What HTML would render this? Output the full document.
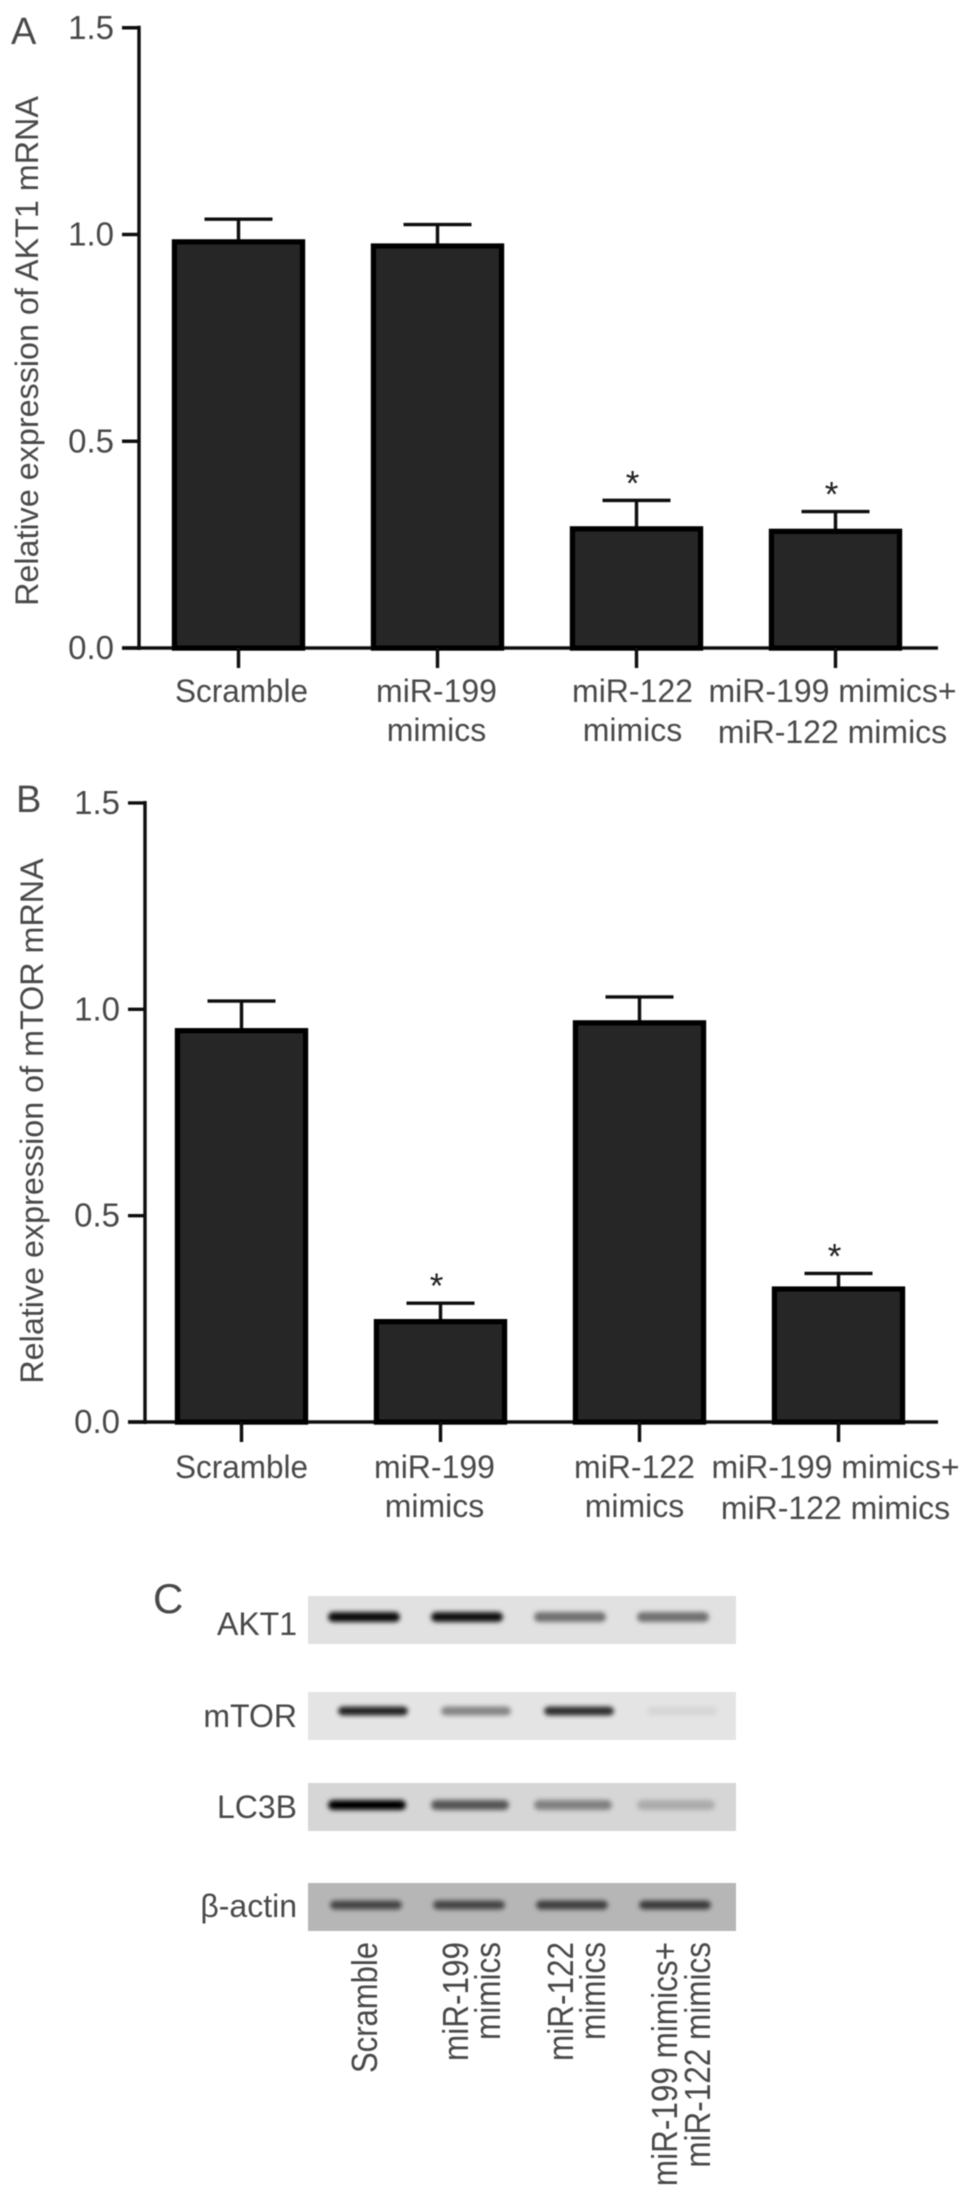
<!DOCTYPE html>
<html lang="en">
<head>
<meta charset="utf-8">
<title>Relative expression of AKT1 and mTOR mRNA with western blots</title>
<style>
html,body{margin:0;padding:0;background:#fff;}
svg{display:block;}
text{font-family:"Liberation Sans",Arial,sans-serif;fill:#4a4a4a;}
</style>
</head>
<body>
<svg id="figure" xmlns="http://www.w3.org/2000/svg" width="969" height="2201" viewBox="0 0 969 2201">
<defs>
<filter id="soft" x="-5%" y="-5%" width="110%" height="110%"><feGaussianBlur stdDeviation="0.6"/></filter>
<filter id="bandBlur" x="-20%" y="-100%" width="140%" height="300%"><feGaussianBlur stdDeviation="2.4"/></filter>
</defs>
<rect width="969" height="2201" fill="#fff"/>
<g id="root" filter="url(#soft)"></g>
</svg>
<script>
const categories = [["Scramble"],["miR-199","mimics"],["miR-122","mimics"],["miR-199 mimics+","miR-122 mimics"]];
const yTickValues = [0, 0.5, 1, 1.5];
const yTickLabels = ["0.0", "0.5", "1.0", "1.5"];
const akt1Values = [0.982, 0.972, 0.288, 0.282];
const akt1ErrorTops = [1.037, 1.024, 0.357, 0.33];
const akt1Significant = [false, false, true, true];
const mtorValues = [0.948, 0.243, 0.967, 0.322];
const mtorErrorTops = [1.02, 0.288, 1.03, 0.36];
const mtorSignificant = [false, true, false, true];
const blotLabels = ["AKT1", "mTOR", "LC3B", "β-actin"];
const akt1BandDensity = [0.95, 0.92, 0.5, 0.5];
const mtorBandDensity = [0.85, 0.42, 0.8, 0.06];
const lc3bBandDensity = [1.0, 0.6, 0.4, 0.2];
const actinBandDensity = [0.62, 0.62, 0.66, 0.68];

const NS = "http://www.w3.org/2000/svg";
const root = document.getElementById("root");
function mk(tag, attrs, parent, txt){
  const el = document.createElementNS(NS, tag);
  for (const k in attrs) el.setAttribute(k, attrs[k]);
  if (txt !== undefined) el.textContent = txt;
  (parent || root).appendChild(el);
  return el;
}

function drawChart(cfg){
  const g = mk("g", {}, root);
  
  
  const y = v => cfg.y0 - v * cfg.unit;
  const x = i => cfg.x0 + i * cfg.step;

  const yAxis = mk("line", {x1:cfg.axisX, x2:cfg.axisX, y1:y(1.5)-2, y2:y(0)+2, stroke:"#111", "stroke-width":3.4}, g);
  
  
  const xAxis = mk("line", {x1:cfg.axisX-17, x2:cfg.axisEnd, y1:y(0), y2:y(0), stroke:"#111", "stroke-width":3.4}, g);
  
  

  yTickValues.forEach((v, i) => {
    const t = mk("line", {x1:cfg.axisX-17, x2:cfg.axisX, y1:y(v), y2:y(v), stroke:"#111", "stroke-width":3.4}, g);
    
    
    const l = mk("text", {x:cfg.axisX-25, y:y(v)+11, "text-anchor":"end", "font-size":33}, g, yTickLabels[i]);
    
    
  });

  const title = mk("text", {transform:"translate("+cfg.titleX+","+cfg.titleY+") rotate(-90)", "text-anchor":"middle", "font-size":32.3}, g, cfg.title);
  
  

  const letter = mk("text", {x:cfg.letterX, y:cfg.letterY, "font-size":38}, g, cfg.letter);
  
  

  categories.forEach((lines, i) => {
    const cx = x(i);
    const errLine = mk("line", {x1:cx, x2:cx, y1:y(cfg.values[i]), y2:y(cfg.errors[i]), stroke:"#111", "stroke-width":3.4}, g);
    
    
    const cap = mk("line", {x1:cx-34, x2:cx+34, y1:y(cfg.errors[i]), y2:y(cfg.errors[i]), stroke:"#111", "stroke-width":3.4}, g);
    
    

    const bar = mk("rect", {x:cx-64, y:y(cfg.values[i]), width:128, height:y(0)-y(cfg.values[i]), fill:"#262626", stroke:"#000", "stroke-width":5.4}, g);
    
    

    const tick = mk("line", {x1:cx, x2:cx, y1:y(0), y2:y(0)+20, stroke:"#111", "stroke-width":3.4}, g);
    
    

    if (cfg.sig[i]) {
      const star = mk("text", {x:cx-4, y:y(cfg.errors[i])-5, "text-anchor":"middle", "font-size":35, style:"fill:#222"}, g, "*");
      
      
    }

    lines.forEach((s, j) => {
      const attrs = {x:cx+cfg.labelDx[i], y:y(0)+cfg.labelGap+j*(i===3?41:39), "text-anchor":"middle", "font-size":32};
      if (s === "Scramble") { attrs.textLength = 133; attrs.lengthAdjust = "spacingAndGlyphs"; }
      const lab = mk("text", attrs, g, s);
      
      
    });
  });
}

drawChart({name:"akt1-bar-chart", y0:648, unit:413.5, axisX:139, axisEnd:938, x0:238.5, step:199,
  values:akt1Values, errors:akt1ErrorTops, sig:akt1Significant, labelDx:[3,-1,-4,-3], labelGap:54,
  title:"Relative expression of AKT1 mRNA", titleX:38, titleY:351, letter:"A", letterX:11, letterY:44});
drawChart({name:"mtor-bar-chart", y0:1422, unit:412.7, axisX:145, axisEnd:938, x0:241.5, step:199,
  values:mtorValues, errors:mtorErrorTops, sig:mtorSignificant, labelDx:[0,-6,-5,-3], labelGap:56,
  title:"Relative expression of mTOR mRNA", titleX:43, titleY:1121, letter:"B", letterX:16, letterY:812});

/* Panel C */
const panel = mk("g", {}, root);


const panelLetter = mk("text", {x:153, y:1613, "font-size":42}, panel, "C");



const densities = [akt1BandDensity, mtorBandDensity, lc3bBandDensity, actinBandDensity];
const rowTop = r => [1596, 1692, 1783, 1883][r];
const rowFill = ["#e1e1e1", "#e4e4e4", "#d6d6d6", "#b6b6b6"];
const laneX = i => 364 + i * 103;
const rowShift = [0, 9, 3, 2];
const bandCy = [1617, 1711, 1805, 1905];
const bandH = [10, 9, 10, 9];
const bandW = [72, 70, 78, 72];
const labelBase = [1635, 1727, 1818, 1917];

blotLabels.forEach((label, r) => {
  const strip = mk("rect", {x:308, y:rowTop(r), width:428, height:48, fill:rowFill[r]}, panel);
  
  
  densities[r].forEach((d, i) => {
    const band = mk("rect", {x:laneX(i)+rowShift[r]-bandW[r]/2, y:bandCy[r]-bandH[r]/2, width:bandW[r], height:bandH[r], rx:5, fill:"#000", "fill-opacity":d, filter:"url(#bandBlur)"}, panel);
    
    
  });
  const t = mk("text", {x:297, y:labelBase[r], "text-anchor":"end", "font-size":32}, panel, label);
  
  
});

const laneLabelX = [[377],[468,500],[573,605],[677,710]];
categories.forEach((lines, i) => {
  lines.forEach((s, j) => {
    const attrs = {transform:"translate("+laneLabelX[i][j]+",1942) rotate(-90) scale(1,1.14)", "font-size":31.5, "text-anchor":"end"};
    if (s === "Scramble") { attrs.textLength = 131; attrs.lengthAdjust = "spacingAndGlyphs"; }
    const lab = mk("text", attrs, panel, s);
    
    
  });
});
</script>
</body>
</html>
